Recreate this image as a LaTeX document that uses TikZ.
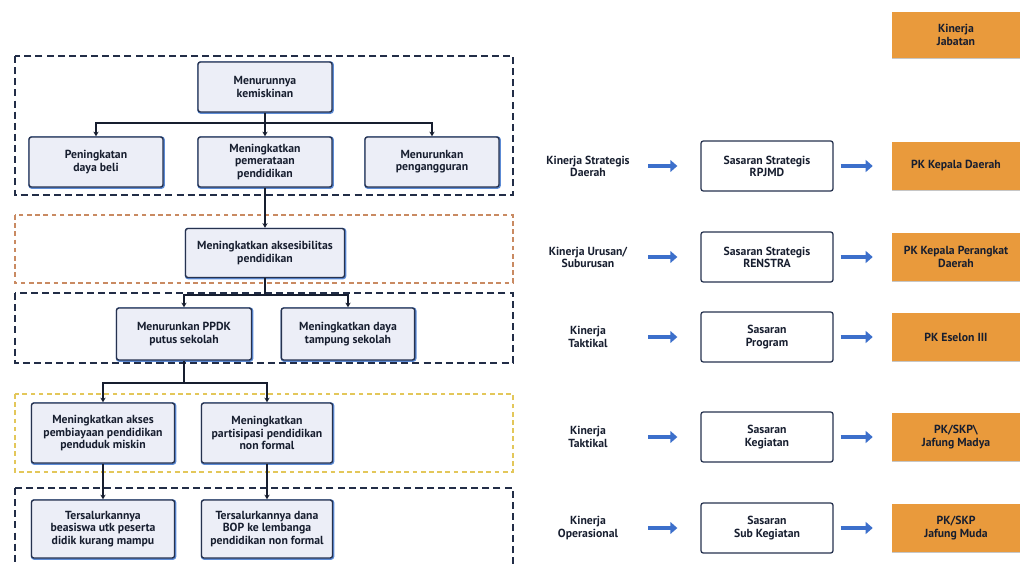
\documentclass[tikz,border=0pt]{standalone}
\usepackage{fontspec}
\setsansfont{PT Sans}
\usetikzlibrary{arrows.meta, positioning}
\definecolor{navy}{HTML}{26324F}
\definecolor{goalfill}{HTML}{ECEEF7}
\definecolor{glow}{HTML}{5C8BD6}
\definecolor{pkorange}{HTML}{E99A3C}
\definecolor{flowblue}{HTML}{3C6FCB}
\definecolor{frameorange}{HTML}{C98A62}
\definecolor{frameyellow}{HTML}{E3C75A}
\tikzset{
    x=0.03cm, y=-0.03cm, % one unit is one pixel of the picture
    >={Stealth[length=4pt, width=4.5pt]}, % small heads on the tree links
    every node/.style={font=\sffamily\bfseries\fontsize{10}{10.4}\selectfont, align=center, inner sep=1pt, text=navy!60!black},
    goal/.style={draw=navy, line width=1.2pt, fill=goalfill, rounded corners=2pt,
        preaction={draw=glow, line width=2.2pt, transform canvas={shift={(0.5pt,-0.5pt)}}}},
    target/.style={draw=navy, line width=1.1pt, fill=white, rounded corners=2pt,
        minimum width=3.96cm, minimum height=1.5cm},
    pk/.style={fill=pkorange, minimum width=3.84cm, minimum height=1.44cm,
        preaction={fill=gray!45, transform canvas={shift={(0pt,-1.2pt)}}}},
    level/.style={minimum width=3.3cm},
    frame/.style={draw=navy!90!black, line width=1.1pt, dash pattern=on 6pt off 3.5pt},
    link/.style={->, draw=navy!60!black, line width=1.3pt},
    flow/.style={-{Triangle[length=6pt, width=10pt]}, draw=flowblue, line width=3.2pt},
}
\begin{document}
\begin{tikzpicture}
\useasboundingbox (0,0) rectangle (1020,563);
% dashed level frames
\draw[frame] (15,56) rectangle (513,195);
\draw[frame, draw=frameorange, line width=0.9pt, dash pattern=on 4pt off 3pt] (15,215) rectangle (513,283);
\draw[frame] (15,293) rectangle (513,363);
\draw[frame, draw=frameyellow, line width=0.9pt, dash pattern=on 4pt off 3pt] (15,394) rectangle (513,472);
\draw[frame] (15,488) rectangle (513,600);

% tree of goals
\node[goal, minimum width=4.02cm, minimum height=1.5cm] (kemiskinan) at (265,87) {Menurunnya\\kemiskinan};
\node[goal, minimum width=4.02cm, minimum height=1.5cm] (dayabeli) at (96,162) {Peningkatan\\daya beli};
\node[goal, minimum width=4.02cm, minimum height=1.5cm] (pemerataan) at (265,162) {Meningkatkan\\pemerataan\\pendidikan};
\node[goal, minimum width=4.02cm, minimum height=1.5cm] (pengangguran) at (432,162) {Menurunkan\\pengangguran};
\node[goal, minimum width=4.77cm, minimum height=1.47cm] (aksesibilitas) at (265,253) {Meningkatkan aksesibilitas\\pendidikan};
\node[goal, minimum width=4.05cm, minimum height=1.56cm] (ppdk) at (184,334) {Menurunkan PPDK\\putus sekolah};
\node[goal, minimum width=4.0cm, minimum height=1.56cm] (dayatampung) at (348,334) {Meningkatkan daya\\tampung sekolah};
\node[goal, minimum width=4.29cm, minimum height=1.8cm] (pembiayaan) at (103,433) {Meningkatkan akses\\pembiayaan pendidikan\\penduduk miskin};
\node[goal, minimum width=3.93cm, minimum height=1.8cm] (partisipasi) at (267,433) {Meningkatkan\\partisipasi pendidikan\\non formal};
\node[goal, minimum width=4.29cm, minimum height=1.74cm] (beasiswa) at (103,529) {Tersalurkannya\\beasiswa utk peserta\\didik kurang mampu};
\node[goal, minimum width=3.93cm, minimum height=1.74cm] (bop) at (267,529) {Tersalurkannya dana\\BOP ke lembanga\\pendidikan non formal};

\coordinate (bus1) at (265,123);
\coordinate (bus2) at (265,295);
\coordinate (bus3) at (184,383);
\draw[link, -] (kemiskinan) -- (bus1);
\draw[link] (bus1) -| (dayabeli.north);
\draw[link] (bus1) -- (pemerataan.north);
\draw[link] (bus1) -| (pengangguran.north);
\draw[link] (pemerataan) -- (aksesibilitas);
\draw[link, -] (aksesibilitas) -- (bus2);
\draw[link] (bus2) -| (ppdk.north);
\draw[link] (bus2) -| (dayatampung.north);
\draw[link, -] (ppdk) -- (bus3);
\draw[link] (bus3) -| (pembiayaan.north);
\draw[link] (bus3) -| (partisipasi.north);
\draw[link] (pembiayaan) -- (beasiswa);
\draw[link] (partisipasi) -- (bop);

% kinerja levels
\node[pk, minimum height=1.35cm] (jabatan) at (956,35) {Kinerja\\Jabatan};
\foreach \y/\kin/\sas/\pkt [count=\i] in {
    166/{Kinerja Strategis\\Daerah}/{Sasaran Strategis\\RPJMD}/{PK Kepala Daerah},
    257/{Kinerja Urusan/\\Suburusan}/{Sasaran Strategis\\RENSTRA}/{PK Kepala Perangkat\\Daerah},
    337/{Kinerja\\Taktikal}/{Sasaran\\Program}/{PK Eselon III},
    437/{Kinerja\\Taktikal}/{Sasaran\\Kegiatan}/{PK/SKP\textbackslash\\Jafung Madya},
    528/{Kinerja\\Operasional}/{Sasaran\\Sub Kegiatan}/{PK/SKP\\Jafung Muda}}{
    \node[level] (kin\i) at (588,\y) {\kin};
    \node[target] (sas\i) at (767,\y) {\sas};
    \node[pk] (pk\i) at (956,\y) {\pkt};
    \draw[flow, shorten <=0.15cm, shorten >=0.69cm] (kin\i.east) -- (sas\i.west);
    \draw[flow, shorten <=0.21cm, shorten >=0.57cm] (sas\i.east) -- (pk\i.west);
}
\end{tikzpicture}
\end{document}
